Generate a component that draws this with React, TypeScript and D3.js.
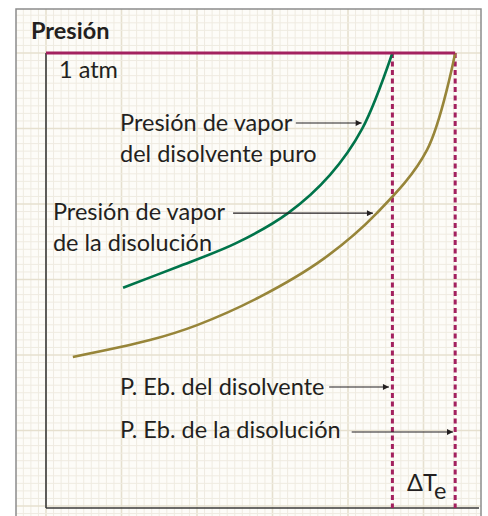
import React from "react";
import * as d3 from "d3";

// vapour pressure curves (temperature in arbitrary units, pressure in atm)
const pureTemp = [17.8, 30.9, 43.9, 55.9, 65.6, 73.0, 80];
const purePres = [0.484, 0.532, 0.582, 0.648, 0.732, 0.833, 1.0];
const solTemp = [6.2, 24.0, 34.9, 49.4, 64.0, 76.4, 88.0, 94.5];
const solPres = [0.332, 0.369, 0.402, 0.464, 0.547, 0.648, 0.787, 1.0];

const boilPure = 80;
const boilSol = 94.5;

// annotation text blocks: [lines], temperature, pressure of first baseline
const labelLines = [
  ["Presión de vapor", "del disolvente puro"],
  ["Presión de vapor", "de la disolución"],
  ["P. Eb. del disolvente"],
  ["P. Eb. de la disolución"],
];
const labelTemp = [17.1, 1.6, 17.1, 17.1];
const labelPres = [0.829, 0.633, 0.248, 0.153];

// arrows: from temp, to temp, at pressure
const arrowFrom = [57.7, 43.2, 65.4, 70.6];
const arrowTo = [72.9, 75.5, 79.2, 94.0];
const arrowPres = [0.846, 0.648, 0.266, 0.167];

const W = 488;
const H = 516;
const magenta = "#a3215f";
const green = "#00744a";
const olive = "#978539";
const ink = "#231f20";
const font = "Lato, 'Open Sans', sans-serif";

export default function App() {
  const x = d3.scaleLinear().domain([0, 100]).range([46, 479]);
  const y = d3.scaleLinear().domain([0, 1]).range([508, 53]);

  // background grid paper, anchored at the plot origin
  const step = 7.55;
  const gx = d3.range(-4, 58).map((i) => ({ v: 46 + i * step, major: i % 10 === 0 }));
  const gy = d3.range(-6, 62).map((i) => ({ v: 53 + i * step, major: i % 10 === 0 }));

  const line = d3
    .line<[number, number]>()
    .x((d) => x(d[0]))
    .y((d) => y(d[1]))
    .curve(d3.curveCatmullRom.alpha(0.5));

  const purePath = line(pureTemp.map((t, i) => [t, purePres[i]]));
  const solPath = line(solTemp.map((t, i) => [t, solPres[i]]));

  return (
    <svg
      width={W}
      height={H}
      style={{ position: "absolute", left: 0, top: 0, background: "#fff" }}
    >
      <defs>
        <clipPath id="paper">
          <rect x={16} y={9} width={465} height={520} />
        </clipPath>
        <marker
          id="arrow"
          viewBox="0 0 10 10"
          refX={10}
          refY={5}
          markerWidth={7}
          markerHeight={6}
          markerUnits="userSpaceOnUse"
          orient="auto"
        >
          <path d="M0,0 L10,5 L0,10 Z" fill={ink} />
        </marker>
      </defs>

      <g clipPath="url(#paper)">
        <rect x={16} y={9} width={465} height={520} fill="#fdfcf8" />
        {gx.map((g, i) => (
          <line
            key={"gx" + i}
            x1={g.v}
            x2={g.v}
            y1={0}
            y2={H}
            stroke={g.major ? "#e6e0cf" : "#efebe1"}
            strokeWidth={g.major ? 1.6 : 1}
          />
        ))}
        {gy.map((g, i) => (
          <line
            key={"gy" + i}
            y1={g.v}
            y2={g.v}
            x1={0}
            x2={W}
            stroke={g.major ? "#e6e0cf" : "#efebe1"}
            strokeWidth={g.major ? 1.6 : 1}
          />
        ))}
      </g>
      <rect x={16} y={9} width={465} height={520} fill="none" stroke="#8c8c8c" strokeWidth={1.5} />

      <text x={31} y={39} fontFamily={font} fontWeight="bold" fontSize={23.5} fill={ink}>
        Presión
      </text>

      {/* axes */}
      <line x1={x(0)} x2={x(0)} y1={y(1)} y2={y(0)} stroke="#3a3a3a" strokeWidth={1.6} />
      <line x1={x(0)} x2={x(100)} y1={y(0)} y2={y(0)} stroke="#3a3a3a" strokeWidth={1.6} />

      {/* boiling point verticals */}
      {[boilPure, boilSol].map((t, i) => (
        <line
          key={"bp" + i}
          x1={x(t)}
          x2={x(t)}
          y1={y(1)}
          y2={y(0)}
          stroke={magenta}
          strokeWidth={3}
          strokeDasharray="5,3.5"
        />
      ))}

      <path d={purePath ?? ""} fill="none" stroke={green} strokeWidth={2.6} />
      <path d={solPath ?? ""} fill="none" stroke={olive} strokeWidth={2.6} />

      {/* 1 atm line */}
      <line x1={x(0)} x2={x(boilSol)} y1={y(1)} y2={y(1)} stroke={magenta} strokeWidth={3} />
      <text x={x(3)} y={y(0.945)} fontFamily={font} fontSize={23.5} fill={ink}>
        1 atm
      </text>

      {labelLines.map((lines, i) => (
        <text key={"lb" + i} fontFamily={font} fontSize={23.5} fill={ink}>
          {lines.map((s, j) => (
            <tspan key={j} x={x(labelTemp[i])} y={y(labelPres[i]) + j * 31}>
              {s}
            </tspan>
          ))}
        </text>
      ))}

      {arrowFrom.map((t, i) => (
        <line
          key={"ar" + i}
          x1={x(t)}
          x2={x(arrowTo[i])}
          y1={y(arrowPres[i])}
          y2={y(arrowPres[i])}
          stroke={ink}
          strokeWidth={1.1}
          markerEnd="url(#arrow)"
        />
      ))}

      <text x={x(83.4)} y={y(0.037)} fontFamily={font} fontSize={23.5} fill={ink}>
        ΔT
        <tspan dy={8}>e</tspan>
      </text>
    </svg>
  );
}
